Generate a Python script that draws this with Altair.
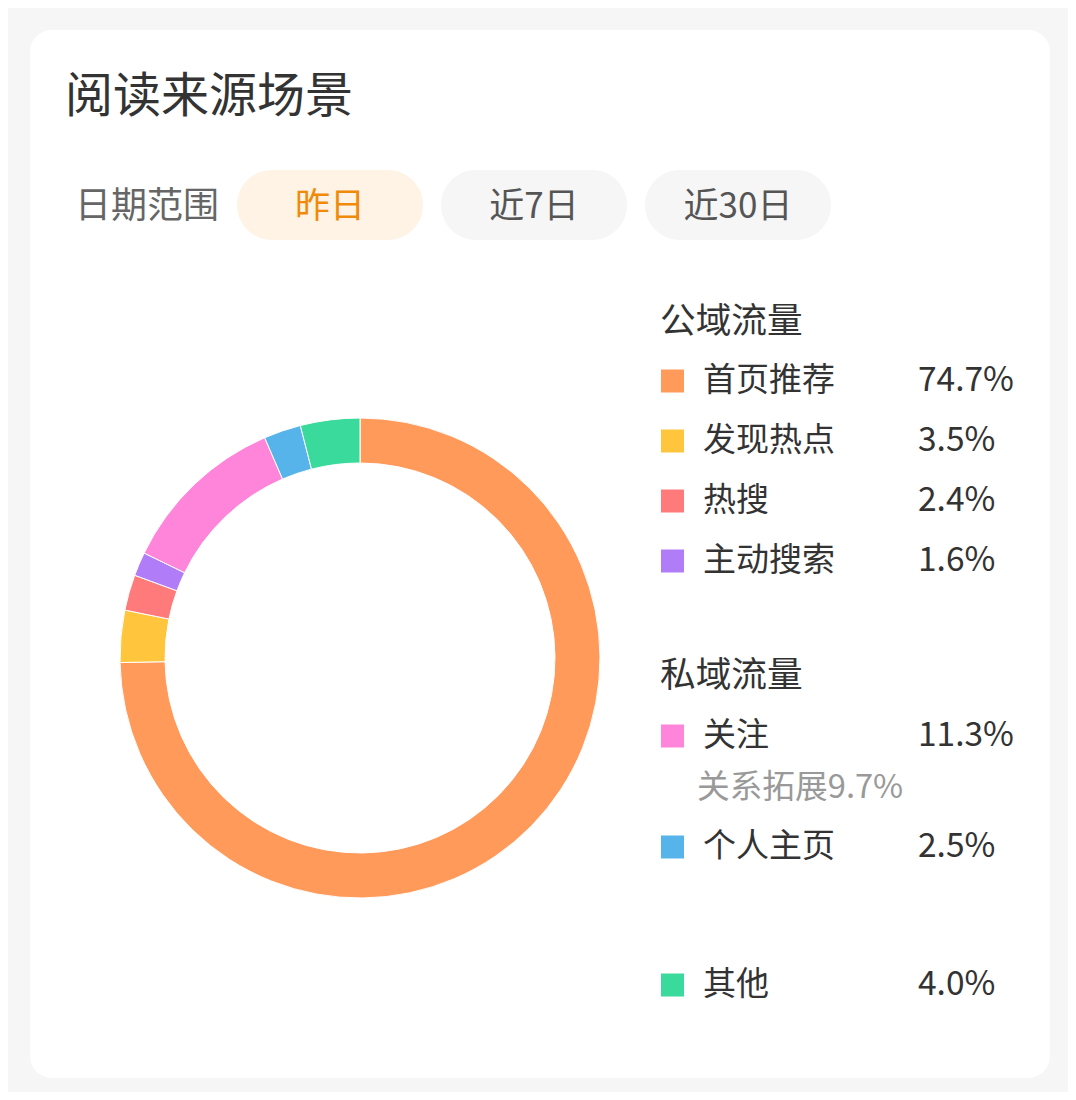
import altair as alt
import pandas as pd

# ---- data ----
title_text = "阅读来源场景"
range_prompt = "日期范围"
range_options = ["昨日", "近7日", "近30日"]
categories = ["首页推荐", "发现热点", "热搜", "主动搜索", "关注", "个人主页", "其他"]
values = [74.7, 3.5, 2.4, 1.6, 11.3, 2.5, 4.0]
group_headers = ["公域流量", "私域流量"]
sub_label = "关系拓展9.7%"

# ---- styles / layout ----
colors = ["#ff9a5a", "#ffc53d", "#ff7a7a", "#b07cf7", "#ff85da", "#56b4ea", "#3ad99c"]
FONT = "Noto Sans CJK SC"
W, H = 1060, 1084
row_y = [373, 433, 493, 553, 728, 839, 977]
header_y = [314, 668]
sub_y = 780
btn_x0 = [229, 433, 637]
btn_x1 = [415, 619, 823]
btn_fill = ["#fff3e6", "#f6f6f6", "#f6f6f6"]
btn_text = ["#f08a0a", "#555555", "#555555"]

color_scale = alt.Scale(domain=categories, range=colors)

one = pd.DataFrame({"a": [0]})

card = alt.Chart(one).mark_rect(cornerRadius=22, color="white").encode(
    x=alt.value(22), x2=alt.value(1042), y=alt.value(22), y2=alt.value(1070)
)

title = alt.Chart(pd.DataFrame({"t": [title_text]})).mark_text(
    font=FONT, fontSize=48, color="#333333", align="left", baseline="middle"
).encode(text="t:N", x=alt.value(57), y=alt.value(90))

prompt = alt.Chart(pd.DataFrame({"t": [range_prompt]})).mark_text(
    font=FONT, fontSize=36, color="#666666", align="left", baseline="middle"
).encode(text="t:N", x=alt.value(67), y=alt.value(199))

btn_df = pd.DataFrame({
    "label": range_options,
    "x0": btn_x0,
    "x1": btn_x1,
    "xc": [(a + b) / 2 for a, b in zip(btn_x0, btn_x1)],
    "fill": btn_fill,
    "tc": btn_text,
})
buttons = alt.Chart(btn_df).mark_rect(cornerRadius=35).encode(
    x=alt.X("x0:Q", scale=None),
    x2="x1:Q",
    y=alt.value(162),
    y2=alt.value(232),
    fill=alt.Fill("fill:N", scale=None),
)
btn_labels = alt.Chart(btn_df).mark_text(
    font=FONT, fontSize=35, align="center", baseline="middle"
).encode(
    x=alt.X("xc:Q", scale=None),
    y=alt.value(199),
    text="label:N",
    color=alt.Color("tc:N", scale=None),
)

pie_df = pd.DataFrame({"cat": categories, "value": values, "ord": list(range(len(categories)))})
donut = alt.Chart(pie_df).mark_arc(
    innerRadius=195, outerRadius=240, stroke="white", strokeWidth=1
).encode(
    theta=alt.Theta("value:Q", stack=True),
    color=alt.Color("cat:N", scale=color_scale, legend=None),
    order=alt.Order("ord:Q"),
    x=alt.value(352),
    y=alt.value(650),
)

leg_df = pd.DataFrame({
    "cat": categories,
    "pct": [f"{v:.1f}%" for v in values],
    "ly": row_y,
})
leg_sq = alt.Chart(leg_df).mark_square(size=529, opacity=1).encode(
    x=alt.value(664.5),
    y=alt.Y("ly:Q", scale=None),
    color=alt.Color("cat:N", scale=color_scale, legend=None),
)
leg_lbl = alt.Chart(leg_df).mark_text(
    font=FONT, fontSize=33, color="#333333", align="left", baseline="middle"
).encode(x=alt.value(695), y=alt.Y("ly:Q", scale=None), text="cat:N")
leg_pct = alt.Chart(leg_df).mark_text(
    font=FONT, fontSize=33.5, color="#333333", align="left", baseline="middle"
).encode(x=alt.value(910), y=alt.Y("ly:Q", scale=None), text="pct:N")

hdr_df = pd.DataFrame({"h": group_headers, "hy": header_y})
headers = alt.Chart(hdr_df).mark_text(
    font=FONT, fontSize=35.7, color="#333333", align="left", baseline="middle"
).encode(x=alt.value(652), y=alt.Y("hy:Q", scale=None), text="h:N")

sub = alt.Chart(pd.DataFrame({"t": [sub_label]})).mark_text(
    font=FONT, fontSize=32.7, color="#999999", align="left", baseline="middle"
).encode(x=alt.value(689), y=alt.value(sub_y), text="t:N")

chart = alt.layer(
    card, title, prompt, buttons, btn_labels, donut, leg_sq, leg_lbl, leg_pct, headers, sub
).properties(
    width=W, height=H, autosize=alt.AutoSizeParams(type="none"), padding=0,
    background="#f6f6f6"
).configure_view(stroke=None)

chart.save("out.html", embed_options={"renderer": "svg", "actions": False})
